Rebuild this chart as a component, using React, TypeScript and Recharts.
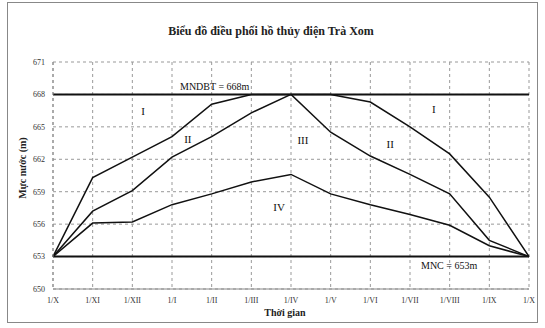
import React from 'react';
import { LineChart, Line, XAxis, YAxis, CartesianGrid, ReferenceLine, ReferenceDot } from 'recharts';

const monthLabels = ['1/X', '1/XI', '1/XII', '1/I', '1/II', '1/III', '1/IV', '1/V', '1/VI', '1/VII', '1/VIII', '1/IX', '1/X'];
const upperLine = [653, 660.3, 662.2, 664.1, 667.1, 668, 668, 668, 667.3, 665.0, 662.5, 658.5, 653];
const middleLine = [653, 657.2, 659.1, 662.2, 664.1, 666.3, 668, 664.5, 662.3, 660.6, 658.8, 654.5, 653];
const lowerLine = [653, 656.1, 656.2, 657.8, 658.8, 659.9, 660.6, 658.8, 657.8, 656.9, 655.9, 654.0, 653];
const yTicks = [650, 653, 656, 659, 662, 665, 668, 671];
const MNDBT = 668;
const MNC = 653;
const zoneLabels = [
  { name: 'I', x: 2.27, y: 666.5 },
  { name: 'II', x: 3.4, y: 663.9 },
  { name: 'III', x: 6.3, y: 663.8 },
  { name: 'IV', x: 5.7, y: 657.6 },
  { name: 'I', x: 9.6, y: 666.6 },
  { name: 'II', x: 8.5, y: 663.4 },
];

const data = monthLabels.map((m, i) => ({ i, upper: upperLine[i], middle: middleLine[i], lower: lowerLine[i] }));

const serif = '"Liberation Serif", "DejaVu Serif", serif';

export default function App() {
  return (
    <div style={{ position: 'absolute', left: 0, top: 0, width: 545, height: 328, background: '#fff', fontFamily: serif }}>
      <div style={{ position: 'absolute', left: 7, top: 2, width: 531, height: 321, border: '1px solid #888', boxSizing: 'border-box' }} />
      <div style={{ position: 'absolute', left: 0, width: 542, top: 24, textAlign: 'center', fontSize: 12, fontWeight: 'bold', color: '#222' }}>
        Biểu đồ điều phối hồ thủy điện Trà Xom
      </div>
      <div style={{ position: 'absolute', left: 240, width: 90, top: 307, textAlign: 'center', fontSize: 10, fontWeight: 'bold', color: '#222' }}>
        Thời gian
      </div>
      <div style={{ position: 'absolute', left: 22, top: 168, width: 0, height: 0 }}>
        <div style={{ position: 'absolute', transform: 'translate(-50%, -50%) rotate(-90deg)', whiteSpace: 'nowrap', fontSize: 10, fontWeight: 'bold', color: '#222' }}>
          Mực nước (m)
        </div>
      </div>
      <div style={{ position: 'absolute', left: 0, top: 0 }}>
        <LineChart width={545} height={328} data={data} margin={{ top: 62, right: 16, bottom: 19, left: 23 }}>
          <CartesianGrid stroke="#999" strokeDasharray="3 3" />
          <XAxis
            dataKey="i"
            type="number"
            domain={[0, 12]}
            ticks={monthLabels.map((_, i) => i)}
            tickFormatter={(v: number) => monthLabels[v]}
            axisLine={{ stroke: '#888' }}
            tickLine={false}
            height={20}
            tick={{ fontSize: 8, fill: '#333', fontFamily: serif }}
            interval={0}
          />
          <YAxis
            type="number"
            domain={[650, 671]}
            ticks={yTicks}
            axisLine={{ stroke: '#888', strokeDasharray: '3 3' }}
            tickLine={false}
            width={30}
            tick={{ fontSize: 8, fill: '#333', fontFamily: serif }}
            interval={0}
          />
          <ReferenceLine y={MNDBT} stroke="#111" strokeWidth={2}
            label={{ value: 'MNDBT = 668m', position: 'insideTopLeft', dx: 122, dy: -17, fontSize: 10, fill: '#111', fontFamily: serif }} />
          <ReferenceLine y={MNC} stroke="#111" strokeWidth={2}
            label={{ value: 'MNC = 653m', position: 'insideBottomLeft', dx: 363, dy: 17, fontSize: 10, fill: '#111', fontFamily: serif }} />
          <Line type="linear" dataKey="upper" stroke="#111" strokeWidth={1.5} dot={false} isAnimationActive={false} />
          <Line type="linear" dataKey="middle" stroke="#111" strokeWidth={1.5} dot={false} isAnimationActive={false} />
          <Line type="linear" dataKey="lower" stroke="#111" strokeWidth={1.5} dot={false} isAnimationActive={false} />
          {zoneLabels.map((z, k) => (
            <ReferenceDot key={k} x={z.x} y={z.y} r={0} stroke="none" fill="none"
              label={{ value: z.name, position: 'center', fontSize: 11, fill: '#111', fontFamily: serif }} />
          ))}
        </LineChart>
      </div>
    </div>
  );
}
